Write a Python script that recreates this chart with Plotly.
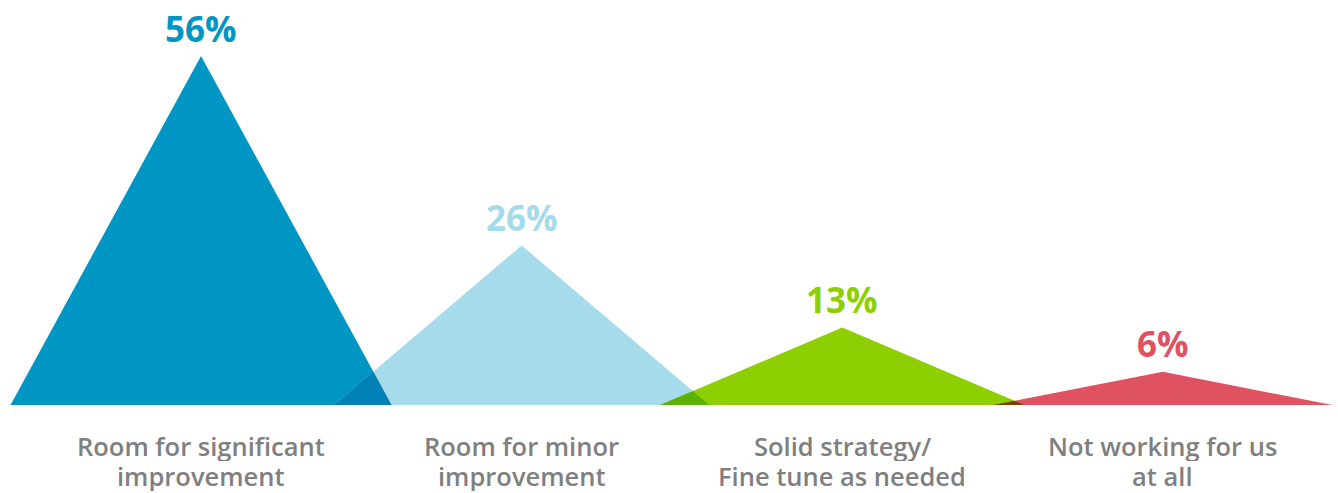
import plotly.graph_objects as go

categories = ["Room for significant<br>improvement", "Room for minor<br>improvement",
              "Solid strategy/<br>Fine tune as needed", "Not working for us<br>at all"]
values = [56, 26, 13, 6]
value_labels = ["56%", "26%", "13%", "6%"]
colors = ["#0096C4", "#A6DBEC", "#8DCF00", "#E05262"]

HALF = 0.602  # half width of each triangle, in category units


def hex2rgb(c):
    c = c.lstrip("#")
    return tuple(int(c[i:i + 2], 16) for i in (0, 2, 4))


def multiply(c1, c2):
    a, b = hex2rgb(c1), hex2rgb(c2)
    return "rgb(%d,%d,%d)" % tuple(round(x * y / 255) for x, y in zip(a, b))


fig = go.Figure()
for i, (v, c) in enumerate(zip(values, colors)):
    fig.add_trace(go.Scatter(
        x=[i - HALF, i, i + HALF, i - HALF], y=[0, v, 0, 0],
        fill="toself", fillcolor=c, mode="lines", line=dict(width=0, color=c),
        hoverinfo="skip", showlegend=False))

# overlap regions (multiply blend of neighbours)
for i in range(len(values) - 1):
    a, b = values[i], values[i + 1]
    u = (a * HALF + b * (1 - HALF)) / (a + b)
    yi = a * (HALF - u) / HALF
    fig.add_trace(go.Scatter(
        x=[i + 1 - HALF, i + u, i + HALF, i + 1 - HALF], y=[0, yi, 0, 0],
        fill="toself", fillcolor=multiply(colors[i], colors[i + 1]), mode="lines",
        line=dict(width=0), hoverinfo="skip", showlegend=False))

LINE_SHIFTS = [-41, -71]
for i, (v, t, c) in enumerate(zip(values, value_labels, colors)):
    fig.add_annotation(x=i, y=v, text="<b>%s</b>" % t, showarrow=False,
                       yanchor="middle", yshift=28, borderpad=0,
                       font=dict(family="Open Sans", size=35, color=c))
    for line, shift in zip(categories[i].split("<br>"), LINE_SHIFTS):
        fig.add_annotation(x=i, y=0, yref="paper", text=line, showarrow=False,
                           yanchor="middle", yshift=shift, borderpad=0, height=30,
                           font=dict(family="Open Sans", size=25.5, weight=600,
                                     color="#7F7F7F"))

fig.update_layout(
    width=1338, height=493, margin=dict(l=0, r=0, t=0, b=88),
    paper_bgcolor="white", plot_bgcolor="white",
    xaxis=dict(range=[-0.627, 3.546], visible=False, fixedrange=True),
    yaxis=dict(range=[0.73, 64.87], visible=False, fixedrange=True),
)
fig.write_html("out.html", config={"displayModeBar": False})
